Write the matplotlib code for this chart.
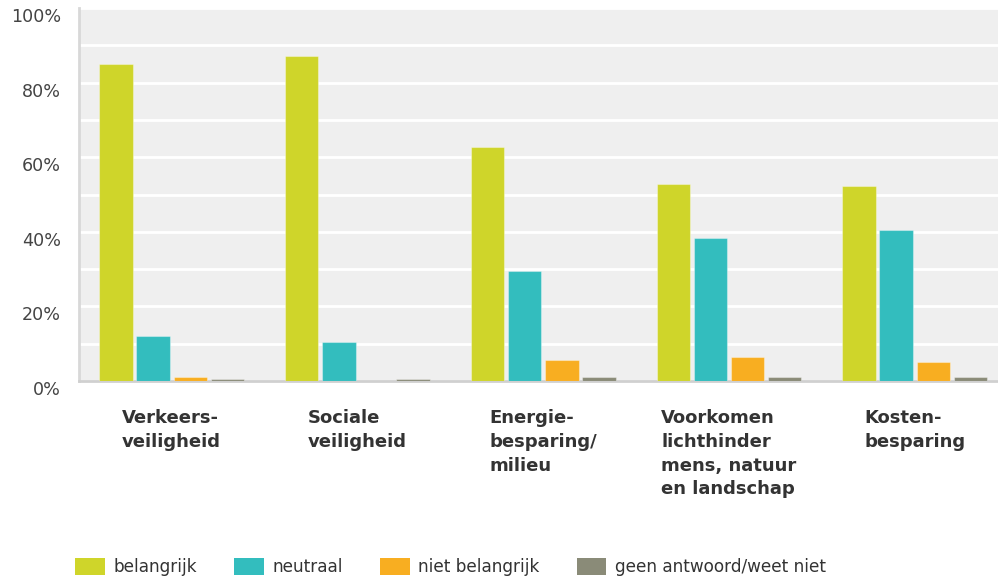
import numpy as np
import matplotlib
matplotlib.use("Agg")
from matplotlib import pyplot as plt
from matplotlib.patches import Patch
from matplotlib.transforms import ScaledTranslation

plt.rcParams["font.family"] = ["DejaVu Sans"]

categories = ["Verkeers-\nveiligheid", "Sociale\nveiligheid", "Energie-\nbesparing/\nmilieu",
              "Voorkomen\nlichthinder\nmens, natuur\nen landschap", "Kosten-\nbesparing"]
series_names = ["belangrijk", "neutraal", "niet belangrijk", "geen antwoord/weet niet"]
belangrijk = [85, 87, 62.8, 52.8, 52.2]
neutraal = [12, 10.5, 29.5, 38.4, 40.4]
niet_belangrijk = [1.0, 0, 5.5, 6.5, 5.0]
geen_antwoord = [0.5, 0.5, 1.0, 1.0, 1.0]
yticks = [0, 20, 40, 60, 80, 100]

colors = ["#CFD52A", "#33BDBE", "#F8AE21", "#8A8B78"]
series = [belangrijk, neutraal, niet_belangrijk, geen_antwoord]

fig = plt.figure(figsize=(9.98, 5.78), dpi=100)
W, H = 998, 578
ax = fig.add_axes([79 / W, 1 - 381 / H, (W - 79) / W, (381 - 8) / H])
ax.set_facecolor("#EFEFEF")

x = np.arange(len(categories))
pitch, width = 0.2, 0.18
for j, (vals, c) in enumerate(zip(series, colors)):
    ax.bar(x + j * pitch, vals, width=width, align="edge", color=c,
           edgecolor=(1, 1, 1, 0.35), linewidth=0.8, zorder=3)

ax.set_xlim(-0.109, 4.838)
ax.set_ylim(0, 100)

# grid every 10%, labels every 20%
ax.set_yticks(yticks)
ax.set_yticks(np.arange(10, 100, 20), minor=True)
ax.set_yticklabels(["%d%%" % v for v in yticks])
ax.grid(axis="y", which="both", color="white", linewidth=2, zorder=1)
ax.tick_params(axis="y", which="both", length=0, pad=13, labelsize=12.6, labelcolor="#444444")
for lab in ax.get_yticklabels():
    lab.set_transform(lab.get_transform() + ScaledTranslation(0, -7 / 100, fig.dpi_scale_trans))

ax.set_xticks(x + 0.39)
ax.set_xticklabels(categories, fontweight="bold", fontsize=13, color="#333333", linespacing=1.42)
for lab in ax.get_xticklabels():
    lab.set_multialignment("left")
    lab.set_verticalalignment("top")
ax.tick_params(axis="x", length=0, pad=20)

for s in ["top", "right"]:
    ax.spines[s].set_visible(False)
ax.spines["left"].set_color("#D8D8D8")
ax.spines["left"].set_linewidth(2)
ax.spines["bottom"].set_color("#D0D0D0")
ax.spines["bottom"].set_linewidth(2)

handles = [Patch(facecolor=c, edgecolor="none") for c in colors]
fig.legend(handles, series_names, loc="center left", bbox_to_anchor=(75 / W, 1 - 567 / H),
           ncol=4, frameon=False, fontsize=12.2, handlelength=1.75, handleheight=1.2,
           handletextpad=0.5, columnspacing=2.2, borderpad=0, borderaxespad=0,
           labelcolor="#333333")

fig.savefig("out.png", dpi=100)
